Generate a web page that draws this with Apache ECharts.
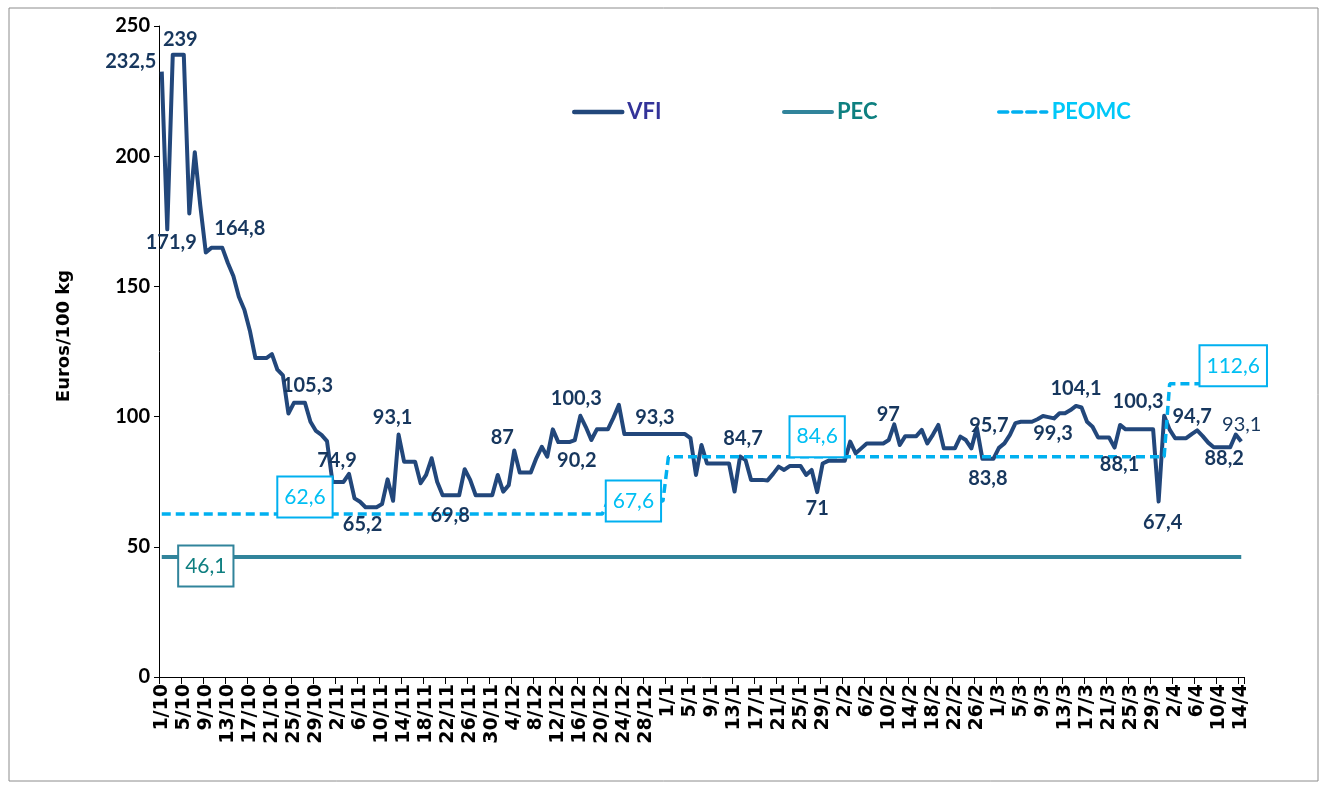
<!DOCTYPE html>
<html>
<head>
<meta charset="utf-8">
<script src="https://cdn.jsdelivr.net/npm/echarts@6/dist/echarts.min.js"></script>
<style>
  html, body { margin: 0; padding: 0; background: #fff; }
  #chart { width: 1325px; height: 787px; }
</style>
</head>
<body>
<div id="chart"></div>
<script>
// daily categories, 1 Oct 2011 -> 14 Apr 2012
var dates = [];
for (var k = 0; k < 197; k++) {
  var d = new Date(2011, 9, 1 + k);
  dates.push(d.getDate() + '/' + (d.getMonth() + 1));
}

// VFI, euros / 100 kg, one value per day
var vfi = [
  232.5, 171.9, 239, 239, 239, 178, 201.5, 181, 163, 164.8,
  164.8, 164.8, 159, 154, 146, 141, 133, 122.5, 122.5, 122.5,
  124, 118, 115.8, 101.2, 105.3, 105.3, 105.3, 98, 94.5, 93,
  90.6, 74.9, 74.9, 74.9, 78, 68.6, 67.3, 65.2, 65.2, 65.2,
  66.4, 75.9, 67.7, 93.1, 82.7, 82.7, 82.7, 74.4, 77.6, 84,
  75, 69.8, 69.8, 69.8, 69.8, 79.8, 75.7, 69.8, 69.8, 69.8,
  69.8, 77.6, 71.2, 73.7, 87, 78.5, 78.5, 78.5, 84, 88.4,
  84.6, 95.1, 90.2, 90.2, 90.2, 91, 100.3, 96, 91, 95.1,
  95.1, 95.1, 99.5, 104.5, 93.3, 93.3, 93.3, 93.3, 93.3, 93.3,
  93.3, 93.3, 93.3, 93.3, 93.3, 93.3, 91.7, 77.6, 89.1, 82,
  82, 82, 82, 82, 71.2, 84.7, 83.3, 75.7, 75.7, 75.7,
  75.5, 78, 80.8, 79.5, 81, 81, 81, 77.6, 79.5, 71,
  82, 83, 83, 83, 83, 90.4, 85.9, 87.8, 89.7, 89.7,
  89.7, 89.7, 91, 97, 89.1, 92.5, 92.5, 92.5, 94.9, 89.7,
  93, 96.8, 87.8, 87.8, 87.8, 92.3, 91, 87.8, 95.7, 83.8,
  83.8, 83.8, 88, 89.7, 93, 97.5, 98, 98, 98, 99,
  100.2, 99.8, 99.3, 101.3, 101.3, 102.5, 104.1, 103.5, 98, 96.1,
  92, 92, 92, 88.1, 96.8, 95.1, 95.1, 95.1, 95.1, 95.1,
  95.1, 67.4, 100.3, 95, 91.7, 91.7, 91.7, 93.3, 94.7, 92.5,
  90, 88.2, 88.2, 88.2, 88.2, 93.1, 90.4
];

// PEC is flat over the whole season
var pecValue = 46.1;

// PEOMC levels: [first day index, last day index, value]
var peomcPeriods = [
  [0, 80, 62.6],
  [81, 91, 67.6],
  [92, 182, 84.6],
  [183, 196, 112.6]
];

var yTicks = [0, 50, 100, 150, 200, 250];

// labelled points: [day index, dx, dy]
var vfiLabels = [
  [0, -31, -10], [1, 4, 13], [3, 2, -15], [10, 23, -19], [25, 8, -17],
  [32, -1, -21], [37, -3, 17], [43, -6, -17], [52, 2, 20], [64, -12, -13],
  [73, 13, 18], [76, -4, -17], [89, 3, -16], [105, 3, -18], [119, 0, 16],
  [133, -6, -10], [148, 12, -2], [150, 0, 20], [162, -1, 15], [166, 0, -17],
  [173, 5, 17], [181, 4, 21], [182, -26, -14], [188, -5, -14], [192, 5, 11],
  [195, 6, -10]
];
var peomcLabels = [[26, 0, -17], [86, -2, 0], [119, 0, -20], [194, 3, -18]];
var pecLabels = [[8, 0, 9]];

var pec = dates.map(function () { return pecValue; });
var peomc = [];
peomcPeriods.forEach(function (p) {
  for (var i = p[0]; i <= p[1]; i++) { peomc[i] = p[2]; }
});

function fmt(v) { return String(v).replace('.', ','); }

var C = {
  vfi: '#22477b',
  vfiText: '#17375e',
  pec: '#31849b',
  pecText: '#0f7f80',
  peomc: '#00b0f0',
  peomcText: '#00bff3'
};

function marks(list, arr, extra) {
  return list.map(function (l) {
    var item = {
      coord: [dates[l[0]], arr[l[0]]],
      value: arr[l[0]],
      label: { offset: [l[1], l[2]] }
    };
    if (extra && extra[l[0]]) { item.label.fontWeight = extra[l[0]]; }
    return item;
  });
}

function markPoint(data, labelStyle) {
  return {
    symbol: 'circle',
    symbolSize: 1,
    itemStyle: { color: 'rgba(0,0,0,0)' },
    label: Object.assign({
      show: true,
      position: 'inside',
      fontFamily: 'Lato',
      fontSize: 20,
      fontWeight: 'bold',
      formatter: function (p) { return fmt(p.value); }
    }, labelStyle),
    data: data
  };
}

var FONT = 'Lato, "DejaVu Sans", sans-serif';

function legendFor(name, left, color, width) {
  return {
    left: left,
    top: 101,
    padding: 0,
    itemWidth: 48,
    itemHeight: 14,
    itemGap: 5,
    itemStyle: { opacity: 0 },
    lineStyle: { width: width, cap: 'round' },
    data: [name],
    textStyle: { color: color, fontFamily: FONT, fontSize: 22, fontWeight: 'bold' }
  };
}

var option = {
  animation: false,
  backgroundColor: '#fff',
  textStyle: { fontFamily: FONT },
  grid: { left: 159, right: 81, top: 26, bottom: 110 },
  legend: [
    legendFor('VFI', 572, '#333399', 4.5),
    legendFor('PEC', 782, '#0e8080', 4),
    legendFor('PEOMC', 997, '#00c8f8', 3.5)
  ],
  graphic: [
    {
      type: 'rect',
      shape: { x: 9, y: 8, width: 1309, height: 773 },
      style: { fill: 'none', stroke: '#8c8c8c', lineWidth: 1 },
      silent: true
    },
    {
      type: 'text',
      x: 64,
      y: 336,
      rotation: Math.PI / 2,
      style: {
        text: 'Euros/100 kg',
        align: 'center',
        verticalAlign: 'middle',
        fill: '#000',
        font: 'bold 18px "DejaVu Sans", sans-serif'
      },
      silent: true
    }
  ],
  xAxis: {
    type: 'category',
    data: dates,
    boundaryGap: true,
    axisLine: { lineStyle: { color: '#000', width: 1 } },
    axisTick: { show: true, interval: 3, length: 7, lineStyle: { color: '#000' } },
    axisLabel: {
      interval: 3,
      rotate: 90,
      margin: 7,
      color: '#000',
      fontFamily: '"DejaVu Sans", sans-serif',
      fontWeight: 'bold',
      fontSize: 19
    },
    splitLine: { show: false }
  },
  yAxis: {
    type: 'value',
    min: yTicks[0],
    max: yTicks[yTicks.length - 1],
    interval: 50,
    axisLine: { show: true, lineStyle: { color: '#000', width: 1 } },
    axisTick: { show: true, length: 5, lineStyle: { color: '#000' } },
    axisLabel: { margin: 9, color: '#000', fontFamily: FONT, fontWeight: 'bold', fontSize: 20 },
    splitLine: { show: false }
  },
  series: [
    {
      name: 'VFI',
      type: 'line',
      data: vfi,
      symbol: 'none',
      z: 3,
      lineStyle: { color: C.vfi, width: 4, join: 'round' },
      itemStyle: { color: C.vfi },
      markPoint: markPoint(marks(vfiLabels, vfi, { 195: 'normal' }), { color: C.vfiText })
    },
    {
      name: 'PEC',
      type: 'line',
      data: pec,
      symbol: 'none',
      z: 2,
      lineStyle: { color: C.pec, width: 4 },
      itemStyle: { color: C.pec },
      markPoint: markPoint(marks(pecLabels, pec), {
        color: C.pecText, backgroundColor: '#fff', borderColor: C.pec, borderWidth: 2,
        padding: [9, 6, 8, 6], fontSize: 21, fontWeight: 'normal', lineHeight: 22
      })
    },
    {
      name: 'PEOMC',
      type: 'line',
      data: peomc,
      symbol: 'none',
      z: 4,
      lineStyle: { color: C.peomc, width: 3.5, type: [9, 5] },
      itemStyle: { color: C.peomc },
      markPoint: markPoint(marks(peomcLabels, peomc), {
        color: C.peomcText, backgroundColor: '#fff', borderColor: C.peomc, borderWidth: 2,
        padding: [9, 6, 8, 6], fontSize: 21, fontWeight: 'normal', lineHeight: 22
      })
    }
  ]
};

var chart = echarts.init(document.getElementById('chart'));
chart.setOption(option);
</script>
</body>
</html>
